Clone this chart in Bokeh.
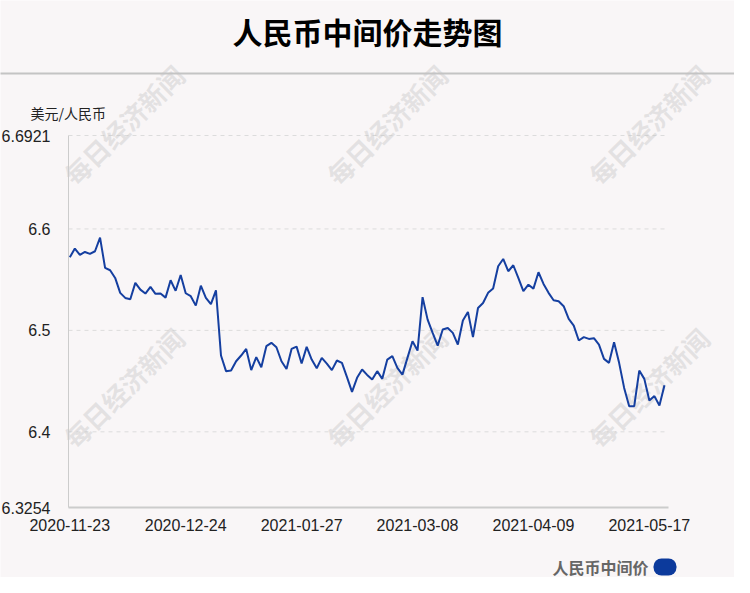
import pandas as pd
from bokeh.plotting import figure
from bokeh.models import Range1d, FixedTicker, Label, BoxAnnotation, ColumnDataSource
from bokeh.embed import file_html
from bokeh.resources import INLINE

# ---- data ----
title_text = "人民币中间价走势图"
series_name = "人民币中间价"
y_unit = "美元/人民币"
watermark = "每日经济新闻"

holidays = ["2021-01-01", "2021-02-11", "2021-02-12", "2021-02-15", "2021-02-16",
            "2021-02-17", "2021-04-05", "2021-05-03", "2021-05-04", "2021-05-05"]
dates = [d.strftime("%Y-%m-%d") for d in
         pd.bdate_range("2020-11-23", "2021-05-20", freq="C", holidays=holidays)]

rates = [
    6.5720, 6.5806, 6.5744, 6.5773, 6.5754, 6.5780, 6.5914, 6.5616, 6.5593, 6.5517,
    6.5370, 6.5320, 6.5307, 6.5468, 6.5402, 6.5363, 6.5429, 6.5360, 6.5363, 6.5323,
    6.5494, 6.5390, 6.5546, 6.5366, 6.5337, 6.5244, 6.5440, 6.5320, 6.5258, 6.5395,
    6.4752, 6.4598, 6.4604, 6.4696, 6.4752, 6.4817, 6.4608, 6.4736, 6.4637, 6.4844,
    6.4877, 6.4834, 6.4696, 6.4620, 6.4817, 6.4840, 6.4673, 6.4837, 6.4712, 6.4627,
    6.4729, 6.4673, 6.4608, 6.4703, 6.4680, 6.4539, 6.4394, 6.4532, 6.4614, 6.4561,
    6.4515, 6.4598, 6.4522, 6.4712, 6.4746, 6.4630, 6.4564, 6.4729, 6.4893, 6.4801,
    6.5327, 6.5106, 6.4975, 6.4850, 6.5008, 6.5024, 6.4975, 6.4860, 6.5097, 6.5182,
    6.4934, 6.5221, 6.5270, 6.5370, 6.5412, 6.5632, 6.5704, 6.5583, 6.5642, 6.5517,
    6.5386, 6.5450, 6.5412, 6.5573, 6.5458, 6.5370, 6.5297, 6.5287, 6.5238, 6.5113,
    6.5047, 6.4900, 6.4933, 6.4916, 6.4923, 6.4860, 6.4719, 6.4680, 6.4884, 6.4680,
    6.4433, 6.4253, 6.4253, 6.4604, 6.4522, 6.4308, 6.4352, 6.4259, 6.4460,
]

tick_dates = ["2020-11-23", "2020-12-24", "2021-01-27", "2021-03-08", "2021-04-09", "2021-05-17"]
y_min, y_max = 6.3254, 6.6921
y_ticks = [6.3254, 6.4, 6.5, 6.6, 6.6921]
y_tick_labels = ["6.3254", "6.4", "6.5", "6.6", "6.6921"]
x_min, x_max = -0.26, 118.8

# ---- layout / styling ----
W, H = 734, 577
PL, PR, PT, PB = 68, 66, 135, 70          # plot-area margins inside the canvas
BG = "#f9f6f7"
LINE = "#153fa0"
CJK = "Noto Sans CJK SC"
LAT = "Liberation Sans"

kx = (W - PL - PR) / (x_max - x_min)
ky = (H - PT - PB) / (y_max - y_min)

idx = list(range(len(rates)))
src = ColumnDataSource(dict(x=idx, y=rates, date=dates[:len(rates)]))

p = figure(width=W, height=H, output_backend="svg", toolbar_location=None,
           x_range=Range1d(x_min - PL / kx, x_max + PR / kx),
           y_range=Range1d(y_min - PB / ky, y_max + PT / ky),
           min_border=0, min_border_left=0, min_border_right=0,
           min_border_top=0, min_border_bottom=0,
           background_fill_color=BG, border_fill_color=BG, outline_line_color=None)

# watermarks (beneath everything)
for cx, cy in [(131, 132), (394, 132), (656, 132), (131, 395), (394, 395), (656, 395)]:
    p.add_layout(Label(x=cx - 8, y=585 - cy, x_units="screen", y_units="screen",
                       text=watermark, angle=0.78, text_font=CJK, text_font_size="26px",
                       text_font_style="bold", text_color="#c0c0c0", text_alpha=0.38,
                       text_align="center", text_baseline="middle", level="underlay"))

# dashed horizontal grid lines at the y ticks (above the x axis)
grid_y = [v for v in y_ticks if v != y_min]
p.segment(x0=[x_min] * len(grid_y), x1=[x_max] * len(grid_y), y0=grid_y, y1=grid_y,
          line_color="#dcdcdc", line_width=1, line_dash="4 4", level="underlay")

p.line("x", "y", source=src, line_color=LINE, line_width=2)

tick_idx = [dates.index(d) for d in tick_dates]
p.xaxis.ticker = FixedTicker(ticks=tick_idx)
p.xaxis.major_label_overrides = {i: d for i, d in zip(tick_idx, tick_dates)}
p.yaxis.ticker = FixedTicker(ticks=y_ticks)
p.yaxis.major_label_overrides = {v: s for v, s in zip(y_ticks, y_tick_labels)}

p.xaxis.fixed_location = y_min
p.yaxis.fixed_location = x_min
p.xaxis.bounds = (x_min, x_max)
p.yaxis.bounds = (y_min, y_max)
p.xgrid.visible = False
p.ygrid.visible = False

for ax in (p.xaxis, p.yaxis):
    ax.major_tick_line_color = None
    ax.minor_tick_line_color = None
    ax.axis_line_color = "#cccccc"
    ax.major_label_text_font = LAT
    ax.major_label_text_font_size = "16px"
    ax.major_label_text_color = "#222222"
p.xaxis.axis_line_width = 2
p.xaxis.major_label_standoff = 5
p.yaxis.major_label_standoff = 12

# screen coords: x_s = X - 8, y_s = 585 - Y  (reference pixels X, Y)
p.add_layout(Label(x=367, y=547, x_units="screen", y_units="screen", text=title_text,
                   text_font=CJK, text_font_size="30px", text_font_style="bold",
                   text_color="#000000", text_align="center", text_baseline="middle"))

p.add_layout(BoxAnnotation(left=-10, right=760, bottom=503, top=505,
                           left_units="screen", right_units="screen",
                           bottom_units="screen", top_units="screen",
                           fill_color="#c4c4c4", fill_alpha=1, line_color=None))

p.add_layout(Label(x=30, y=465, x_units="screen", y_units="screen", text=y_unit,
                   text_font=CJK, text_font_size="14px", text_color="#222222",
                   text_align="left", text_baseline="middle"))

p.add_layout(Label(x=648, y=11, x_units="screen", y_units="screen", text=series_name,
                   text_font=CJK, text_font_size="16px", text_font_style="bold",
                   text_color="#666666", text_align="right", text_baseline="middle"))
p.add_layout(BoxAnnotation(left=653, right=676, bottom=2, top=19,
                           left_units="screen", right_units="screen",
                           bottom_units="screen", top_units="screen",
                           fill_color="#0c3a9c", fill_alpha=1, line_color=None,
                           border_radius=8))

open("out.html", "w").write(file_html(p, INLINE))
